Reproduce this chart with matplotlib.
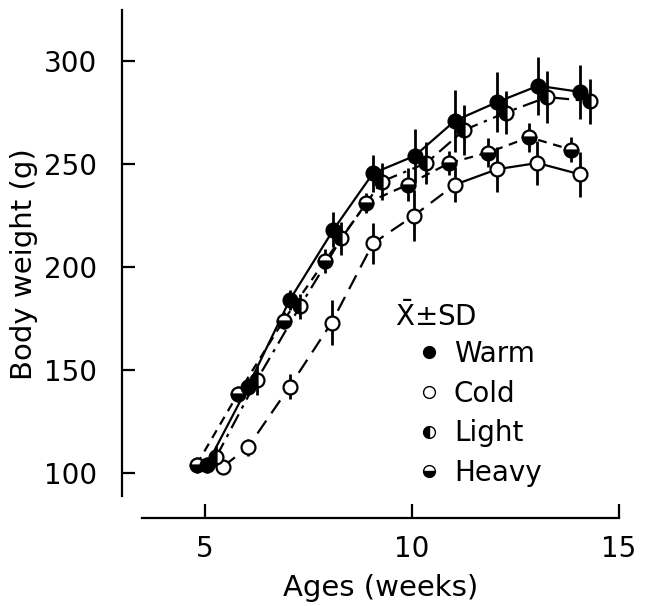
import numpy as np
import matplotlib
matplotlib.use('Agg')
import matplotlib.pyplot as plt
from matplotlib.lines import Line2D

# data (weeks, body weight g, SD g)
warm_x = [5.05, 6.04, 7.05, 8.1, 9.06, 10.07, 11.04, 12.05, 13.05, 14.06]
warm_y = [104, 142, 184, 218, 245.5, 254, 271, 280, 288, 285]
warm_sd = [4, 4, 5, 8.5, 9, 13, 15, 14.5, 14, 13]

cold_x = [5.43, 6.04, 7.05, 8.06, 9.06, 10.05, 11.04, 12.06, 13.03, 14.06]
cold_y = [103, 112.5, 142, 173, 211.5, 225, 240, 247.5, 250.5, 245]
cold_sd = [3, 4, 6, 11, 10, 12.5, 8.5, 11, 10.5, 11]

light_x = [5.28, 6.25, 7.3, 8.3, 9.27, 10.35, 11.26, 12.27, 13.27, 14.3]
light_y = [108, 145, 181, 214, 241.5, 250.5, 266.5, 275, 282.5, 280.5]
light_sd = [5, 7, 6, 8, 9, 10, 12, 10.5, 12.5, 11]

heavy_x = [4.8, 5.8, 6.9, 7.9, 8.9, 9.9, 10.9, 11.83, 12.83, 13.84]
heavy_y = [104, 138.5, 174, 203, 231, 240, 250.5, 255.5, 263, 257]
heavy_sd = [4, 4, 4, 6, 5, 8, 6, 7, 7, 6]

x_ticks = [5, 10, 15]
y_ticks = [100, 150, 200, 250, 300]

plt.rcParams['font.family'] = ['DejaVu Sans']
fs = 20

fig = plt.figure(figsize=(6.45, 6.06), dpi=100)
ax = fig.add_axes([0.1891, 0.1452, 0.8027, 0.8391])

lw = 1.6
ms = 10
ekw = dict(elinewidth=2.0, capsize=0, ecolor='black')

# error bars first
for xs, ys, sd in [(warm_x, warm_y, warm_sd), (cold_x, cold_y, cold_sd),
                   (light_x, light_y, light_sd), (heavy_x, heavy_y, heavy_sd)]:
    ax.errorbar(xs, ys, yerr=sd, fmt='none', zorder=2, **ekw)

# lines
ax.plot(warm_x, warm_y, color='black', lw=lw, ls='-', zorder=3)
ax.plot(light_x, light_y, color='black', lw=lw, ls=(0, (7, 3, 1.5, 3)), zorder=3)
ax.plot(heavy_x, heavy_y, color='black', lw=lw, ls=(0, (4, 3)), zorder=3)
ax.plot(cold_x[:7], cold_y[:7], color='black', lw=lw, ls=(0, (7, 4)), zorder=3)
ax.plot(cold_x[6:], cold_y[6:], color='black', lw=lw, ls='-', zorder=3)

mk = dict(marker='o', ms=ms, mec='black', mew=1.6, ls='none', zorder=4)
ax.plot(heavy_x, heavy_y, mfc='black', fillstyle='bottom', mfcalt='white', **mk)
ax.plot(cold_x, cold_y, mfc='white', **mk)
ax.plot(light_x, light_y, mfc='black', fillstyle='left', mfcalt='white', **mk)
ax.plot(warm_x, warm_y, mfc='black', **mk)

ax.set_xlim(3.0, 15.5)
ax.set_ylim(78.2, 325)
ax.spines['top'].set_visible(False)
ax.spines['right'].set_visible(False)
ax.spines['left'].set_bounds(88.8, 325)
ax.spines['bottom'].set_bounds(3.48, 15)
ax.spines['left'].set_linewidth(1.6)
ax.spines['bottom'].set_linewidth(1.6)

ax.set_xticks(x_ticks)
ax.set_yticks(y_ticks)
ax.tick_params(axis='y', direction='in', length=9, width=1.6, labelsize=fs, pad=18)
ax.tick_params(axis='x', direction='in', length=10, width=1.6, labelsize=fs, pad=12)

ax.set_xlabel('Ages (weeks)', fontsize=21, labelpad=8)
ax.set_ylabel('Body weight (g)', fontsize=21, labelpad=4)

# legend
handles = [
    Line2D([], [], marker='o', ls='none', ms=8.5, mec='black', mfc='black'),
    Line2D([], [], marker='o', ls='none', ms=8.5, mec='black', mfc='white'),
    Line2D([], [], marker='o', ls='none', ms=8.5, mec='black', mfc='black',
           fillstyle='left', mfcalt='white'),
    Line2D([], [], marker='o', ls='none', ms=8.5, mec='black', mfc='black',
           fillstyle='bottom', mfcalt='white'),
]
labels = ['Warm', 'Cold', 'Light', 'Heavy']
leg = ax.legend(handles, labels, loc='upper left', bbox_to_anchor=(0.555, 0.372),
                frameon=False, fontsize=fs, handlelength=0.6, handletextpad=0.6,
                labelspacing=0.42, borderaxespad=0)
ax.text(0.528, 0.396, r'$\bar{\mathrm{X}}$±SD', transform=ax.transAxes,
        fontsize=fs, va='center', ha='left')

fig.savefig('out.png', dpi=100)
